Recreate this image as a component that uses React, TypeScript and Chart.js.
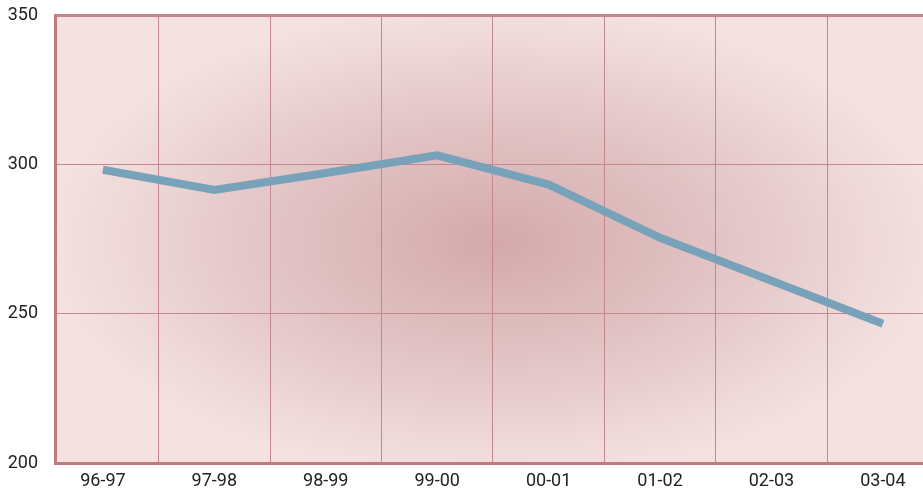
import React, { useEffect, useRef } from "react";
import { Chart, registerables } from "chart.js";

Chart.register(...registerables);

const categories = ["96-97", "97-98", "98-99", "99-00", "00-01", "01-02", "02-03", "03-04"];
const values = [298.2, 291.4, 297.1, 303, 293.2, 275.4, 261, 246.6];
const yTicks = [200, 250, 300, 350];

const bgPlugin = {
  id: "bgGradient",
  beforeDraw(chart: any) {
    const { ctx, chartArea } = chart;
    if (!chartArea) return;
    const { left, top, right, bottom } = chartArea;
    ctx.save();
    ctx.fillStyle = "#f4e2e1";
    ctx.fillRect(left, top, right - left, bottom - top);
    const cx = 495;
    const cy = 242;
    const rx = 450;
    const ry = 240;
    ctx.beginPath();
    ctx.rect(left, top, right - left, bottom - top);
    ctx.clip();
    ctx.translate(cx, cy);
    ctx.scale(1, ry / rx);
    const g = ctx.createRadialGradient(0, 0, 0, 0, 0, rx);
    g.addColorStop(0, "#d4a9ab");
    g.addColorStop(0.5, "#e2c4c5");
    g.addColorStop(0.85, "#efd9d9");
    g.addColorStop(1, "#f4e2e1");
    ctx.fillStyle = g;
    ctx.fillRect(-rx * 1.5, -rx * 1.5, rx * 3, rx * 3);
    ctx.restore();
  },
};

export default function App() {
  const ref = useRef<HTMLCanvasElement>(null);
  useEffect(() => {
    if (!ref.current) return;
    const chart = new Chart(ref.current, {
      type: "line",
      data: {
        datasets: [
          {
            data: values.map((v, i) => ({ x: i, y: v })),
            borderColor: "#78a2ba",
            borderWidth: 8,
            pointRadius: 0,
            tension: 0,
            borderJoinStyle: "miter",
            borderCapStyle: "butt",
            fill: false,
          },
        ],
      },
      options: {
        responsive: false,
        animation: false,
        layout: { padding: { top: 15, right: 0, bottom: 0, left: 0 } },
        plugins: { legend: { display: false }, tooltip: { enabled: false } },
        scales: {
          x: {
            type: "linear",
            min: -0.43,
            max: 7.36,
            afterBuildTicks(scale: any) {
              scale.ticks = categories.map((_, i) => ({ value: i }));
            },
            afterFit(scale: any) {
              scale.height = 28;
              scale.paddingLeft = 0;
              scale.paddingRight = 0;
            },
            grid: {
              offset: true,
              color: "#c48790",
              lineWidth: 1,
              drawTicks: false,
            },
            border: { display: true, color: "#bf7a82", width: 3 },
            ticks: {
              padding: 8,
              autoSkip: false,
              maxRotation: 0,
              color: "#222",
              font: { family: "Roboto", size: 18 },
              callback: (v: any) => categories[v] ?? "",
            },
          },
          y: {
            type: "linear",
            min: 200,
            max: 350,
            afterBuildTicks(scale: any) {
              scale.ticks = yTicks.map((v) => ({ value: v }));
            },
            afterFit(scale: any) {
              scale.width = 55;
              scale.paddingTop = 0;
              scale.paddingBottom = 0;
            },
            grid: {
              color: "#c48790",
              lineWidth: (c: any) => (c.tick && c.tick.value === 350 ? 3 : 1),
              drawTicks: false,
            },
            border: { display: true, color: "#bf7a82", width: 3 },
            ticks: {
              padding: 17,
              color: "#222",
              font: { family: "Roboto", size: 18 },
            },
          },
        },
      },
      plugins: [bgPlugin],
    } as any);
    return () => chart.destroy();
  }, []);
  return (
    <div style={{ position: "fixed", left: 0, top: 0, width: 923, height: 491, background: "#fff" }}>
      <canvas ref={ref} width={923} height={491} />
    </div>
  );
}
